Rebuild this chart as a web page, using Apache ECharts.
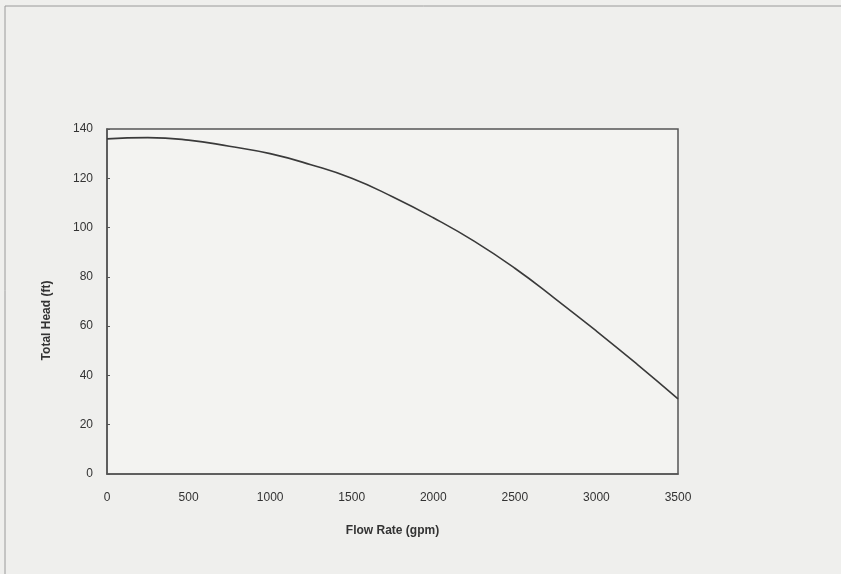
<!DOCTYPE html>
<html>
<head>
<meta charset="utf-8">
<script src="https://cdn.jsdelivr.net/npm/echarts@6/dist/echarts.min.js"></script>
<style>
  html, body { margin: 0; padding: 0; background: #efefed; }
  #main { width: 841px; height: 574px; }
</style>
</head>
<body>
<div id="main"></div>
<script>
// pump curve
var flowRate = [0, 250, 500, 750, 1000, 1250, 1500, 1750, 2000, 2250, 2500, 2750, 3000, 3250, 3500];
var totalHead = [136, 136.5, 135.5, 133, 130, 125.5, 120, 112.5, 104, 94.5, 83.5, 71, 58, 44.5, 30.5];

var xTicks = [0, 500, 1000, 1500, 2000, 2500, 3000, 3500];
var yTicks = [0, 20, 40, 60, 80, 100, 120, 140];

var chart = echarts.init(document.getElementById("main"));

var points = flowRate.map(function (q, i) {
  return [q, totalHead[i]];
});

var option = {
  backgroundColor: "#efefed",
  animation: false,
  textStyle: { fontFamily: "Liberation Sans, Arial, sans-serif" },
  graphic: [
    {
      type: "rect",
      shape: { x: 5, y: 6, width: 900, height: 620 },
      style: { fill: "none", stroke: "#9a9a9a", lineWidth: 1 },
    },
  ],
  grid: {
    left: 107,
    right: 163,
    top: 129,
    bottom: 100,
    show: true,
    borderColor: "#555",
    borderWidth: 1.5,
    backgroundColor: "#f3f3f1",
  },
  xAxis: {
    type: "value",
    min: 0,
    max: 3500,
    interval: 500,
    name: "Flow Rate (gpm)",
    nameLocation: "middle",
    nameGap: 51,
    nameTextStyle: { fontSize: 12, color: "#333", fontWeight: "bold" },
    axisLine: { show: true, lineStyle: { color: "#555", width: 1.5 } },
    axisTick: { show: false },
    splitLine: { show: false },
    axisLabel: {
      margin: 18,
      fontSize: 12,
      color: "#333",
      formatter: function (v) {
        return xTicks.indexOf(v) >= 0 ? String(v) : "";
      },
    },
  },
  yAxis: {
    type: "value",
    min: 0,
    max: 140,
    interval: 20,
    name: "Total Head (ft)",
    nameLocation: "middle",
    nameGap: 54,
    nameRotate: 90,
    nameTextStyle: {
      fontSize: 12,
      color: "#333",
      fontWeight: "bold",
      padding: [0, 38, 0, 0],
    },
    axisLine: { show: true, lineStyle: { color: "#555", width: 1.5 } },
    axisTick: { show: true, inside: true, length: 3, lineStyle: { color: "#555" } },
    splitLine: { show: false },
    axisLabel: {
      margin: 14,
      fontSize: 12,
      color: "#333",
      formatter: function (v) {
        return yTicks.indexOf(v) >= 0 ? String(v) : "";
      },
    },
  },
  series: [
    {
      type: "line",
      data: points,
      smooth: true,
      symbol: "none",
      lineStyle: { color: "#3a3a3a", width: 1.6 },
    },
  ],
};

chart.setOption(option);
</script>
</body>
</html>
